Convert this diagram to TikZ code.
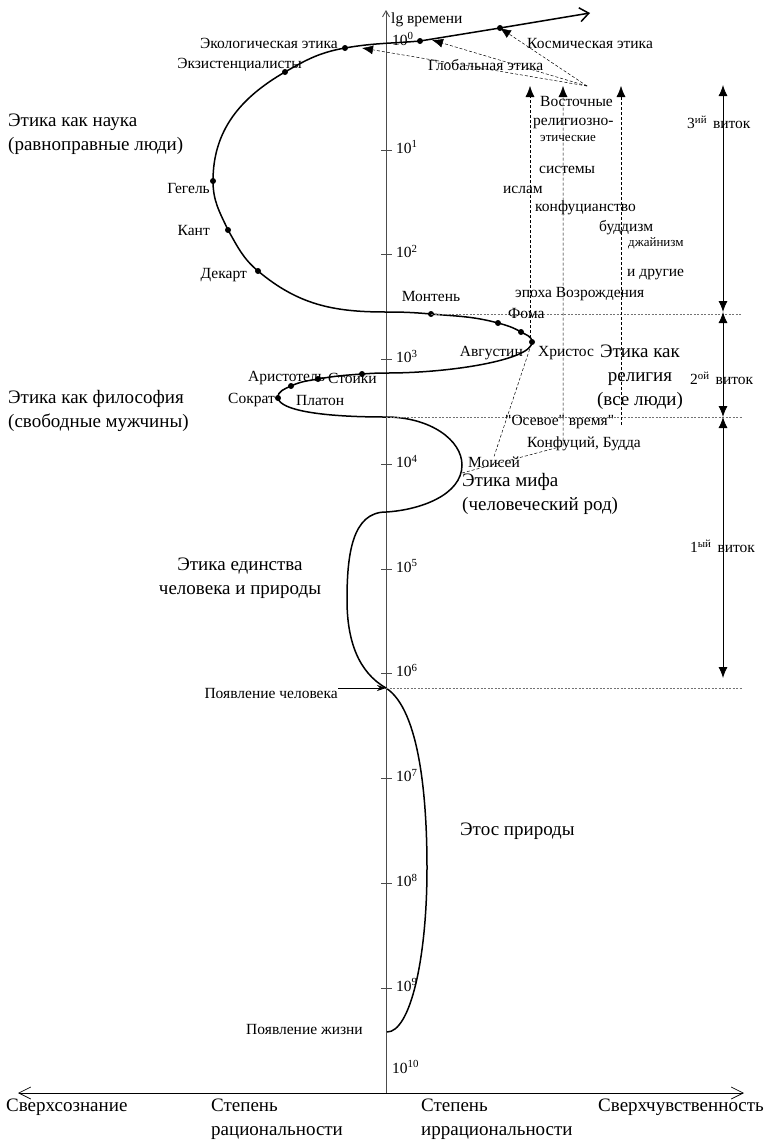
\documentclass[tikz,border=0pt]{standalone}
\usepackage{fontspec}
\setmainfont{Liberation Serif}[Ligatures=TeXOff]
\usetikzlibrary{arrows.meta,positioning}

\begin{document}
\begin{tikzpicture}[x=1pt,y=1pt,
    curve/.style={line width=1.5pt},
    dot/.style={circle,fill,inner sep=0pt,minimum size=6pt},
    lbl/.style={inner sep=0pt,font=\fontsize{15.5}{18}\selectfont},
    tiny/.style={inner sep=0pt,font=\fontsize{13}{15}\selectfont},
    big/.style={inner sep=0pt,font=\fontsize{19}{24}\selectfont},
    axis/.style={line width=0.9pt,black!70},
    guide/.style={dash pattern=on 3pt off 2pt,line width=0.5pt},
    level/.style={dash pattern=on 2pt off 1.5pt,line width=0.4pt,black!55},
    uparrow/.style={-{Latex[length=11pt,width=9pt]}},
    turnarrow/.style={{Latex[length=11pt,width=9pt]}-{Latex[length=11pt,width=9pt]},line width=0.9pt}]
  \useasboundingbox (0,0) rectangle (764,-1141);

  % axes
  \coordinate (origin) at (386,-1093);
  \coordinate (axtop) at (386,-10);
  \coordinate (xleft) at (18,-1093);
  \coordinate (xright) at (744,-1093);
  \coordinate (rim) at (742,0);
  \draw[axis,-{Straight Barb[length=6pt,width=7pt]}] (origin) -- (axtop);
  \draw[line width=0.7pt,{Straight Barb[length=12pt,width=12pt]}-{Straight Barb[length=12pt,width=12pt]}] (xleft) -- (xright);
  \foreach \n in {1,...,9} {
    \pgfmathsetmacro{\ty}{-150-104.75*(\n-1)}
    \draw[axis] (381,\ty) -- (392,\ty);
    \node[lbl,anchor=base west] (pow\n) at (396,\ty-3) {10\textsuperscript{\n}};
  }
  \node[lbl,anchor=base west] (pow0) at (392,-45) {10\textsuperscript{0}};
  \node[lbl,anchor=base west] (pow10) at (392,-1073) {10\textsuperscript{10}};
  \node[lbl,anchor=west] (lgtime) at (391,-20) {lg времени};

  % points of the spiral
  \coordinate (life) at (387,-1032);
  \coordinate (a2) at (427,-868);
  \coordinate (human) at (386,-688);
  \coordinate (a4) at (347,-600);
  \coordinate (a5) at (386,-512);
  \coordinate (moisei) at (462,-465);
  \coordinate (moisei2) at (462,-473);
  \coordinate (a6) at (386,-417);
  \coordinate (sokrat) at (278,-398);
  \coordinate (platon) at (291,-386);
  \coordinate (aristotel) at (318,-379);
  \coordinate (stoiki) at (362,-374);
  \coordinate (a7) at (387,-373);
  \coordinate (hristos) at (532,-342);
  \coordinate (avgust) at (521,-332);
  \coordinate (foma) at (498,-323);
  \coordinate (monten) at (431,-314);
  \coordinate (a8) at (386,-312);
  \coordinate (dekart) at (258,-271);
  \coordinate (kant) at (228,-230);
  \coordinate (hegel) at (213,-181);
  \coordinate (ekzist) at (285,-72);
  \coordinate (ekolog) at (345,-48);
  \coordinate (glob) at (420,-41);
  \coordinate (kosm) at (500,-28);
  \coordinate (tip) at (590,-13);

  \draw[curve,-{Straight Barb[length=9pt,width=14pt]}]
    (life) .. controls (410,-1032) and (427,-960) .. (a2)
    .. controls (427,-800) and (420,-710) .. (human)
    .. controls (358,-672) and (347,-640) .. (a4)
    .. controls (347,-555) and (352,-512) .. (a5)
    .. controls (420,-510) and (462,-495) .. (moisei)
    .. controls (462,-440) and (430,-417) .. (a6)
    .. controls (320,-417) and (280,-410) .. (sokrat)
    to[out=95,in=205] (platon) to[out=25,in=190] (aristotel)
    to[out=10,in=184] (stoiki) to[out=4,in=180] (a7)
    .. controls (450,-373) and (532,-360) .. (hristos)
    to[out=90,in=-30] (avgust) to[out=150,in=-15] (foma)
    to[out=165,in=-5] (monten) to[out=175,in=0] (a8)
    to[out=180,in=-40] (dekart) to[out=140,in=-60] (kant)
    to[out=115,in=-90] (hegel) to[out=90,in=-150] (ekzist)
    to[out=30,in=190] (ekolog) to[out=10,in=185] (glob) -- (kosm) -- (tip);
  \foreach \p in {kosm,glob,ekolog,ekzist,hegel,kant,dekart,monten,foma,avgust,hristos,stoiki,aristotel,platon,sokrat}
    \node[dot] (d-\p) at (\p) {};

  % levels and turns
  \draw[level] (monten) -- (monten -| rim);
  \draw[level] (a6) -- (a6 -| rim);
  \draw[level] (human) -- (human -| rim);
  \coordinate (v3) at (723,-85);
  \coordinate (v1) at (723,-678);
  \draw[turnarrow] (v3) -- (v3 |- a8);
  \draw[turnarrow] (v3 |- a8) -- (v3 |- a6);
  \draw[turnarrow] (v3 |- a6) -- (v1);
  \node[lbl,anchor=west] (turn3) at (687,-122) {3\textsuperscript{ий}\hspace{6pt}виток};
  \node[lbl,anchor=west] (turn2) at (690,-378) {2\textsuperscript{ой}\hspace{6pt}виток};
  \node[lbl,anchor=west] (turn1) at (690,-546) {1\textsuperscript{ый}\hspace{6pt}виток};

  % names on the spiral
  \node[lbl,left=3pt of hegel,yshift=-7pt] (hegellbl) {Гегель};
  \node[lbl,left=18pt of kant] (kantlbl) {Кант};
  \node[lbl,left=11pt of dekart,yshift=-4pt] (dekartlbl) {Декарт};
  \node[lbl,above=12pt of monten] (montenlbl) {Монтень};
  \node[lbl,above right=4pt and 10pt of foma] (fomalbl) {Фома};
  \node[lbl,left=9pt of hristos,yshift=-11pt] (avgustlbl) {Августин};
  \node[lbl,right=6pt of hristos,yshift=-11pt] (hristoslbl) {Христос};
  \node[lbl,anchor=west] (aristotellbl) at (248,-378) {Аристотель};
  \node[lbl,anchor=west] (stoikilbl) at (328,-378) {Стоики};
  \node[lbl,left=3pt of sokrat,yshift=-2pt] (sokratlbl) {Сократ};
  \node[lbl,anchor=west] (platonlbl) at (296,-400) {Платон};
  \node[lbl,right=6pt of moisei,yshift=3pt] (moiseilbl) {Моисей};
  \node[lbl,anchor=east] (ekologlbl) at (338,-43) {Экологическая этика};
  \node[lbl,anchor=east] (ekzistlbl) at (302,-65) {Экзистенциалисты};
  \node[lbl,anchor=west] (kosmlbl) at (527,-43) {Космическая этика};
  \node[lbl,anchor=west] (globlbl) at (428,-65) {Глобальная этика};
  \node[lbl,left=6pt of human,yshift=-5pt,xshift=-42pt] (humanlbl) {Появление человека};
  \node[lbl,left=24pt of life,yshift=3pt] (lifelbl) {Появление жизни};

  % eastern systems
  \node[lbl,anchor=west] (vostlbl) at (540,-101) {Восточные};
  \node[lbl,anchor=west] (rellbl) at (533,-123) {религиозно-};
  \node[tiny,anchor=west] (ethlbl) at (540,-138) {этические};
  \node[lbl,anchor=west] (syslbl) at (539,-170) {системы};
  \node[lbl,anchor=west] (islamlbl) at (503,-190) {ислам};
  \node[lbl,anchor=west] (konfuclbl) at (535,-208) {конфуцианство};
  \node[lbl,anchor=west] (buddlbl) at (599,-228) {буддизм};
  \node[tiny,anchor=west] (jainlbl) at (628,-243) {джайнизм};
  \node[lbl,anchor=west] (otherlbl) at (627,-275) {и другие};
  \node[lbl,anchor=west] (renaislbl) at (515,-294) {эпоха Возрождения};
  \node[lbl,anchor=west] (osevlbl) at (505,-422) {"Осевое" время"};
  \node[lbl,anchor=west] (konflbl) at (527,-444) {Конфуций, Будда};

  \coordinate (vost) at (587,-86);
  \coordinate (g2) at (432,-40);
  \coordinate (g3) at (362,-48);
  \coordinate (arrtop) at (0,-86);
  \coordinate (vb1) at (530,-338);
  \coordinate (konf) at (563,-446);
  \coordinate (osev) at (621,-425);
  \draw[guide,uparrow] (vost) -- (kosm);
  \draw[guide,uparrow] (vost) -- (g2);
  \draw[guide,uparrow] (vost) -- (g3);
  \draw[guide,uparrow] (vb1) -- (vb1 |- arrtop);
  \draw[guide,uparrow] (moisei2) -- (konf) -- (konf |- arrtop);
  \draw[guide,uparrow] (osev) -- (osev |- arrtop);
  \draw[guide] (moiseilbl.north) -- (hristos);
  \draw[line width=0.8pt,-{Stealth[length=9pt,width=6pt]}] (humanlbl.east |- human) -- (human);

  % stages
  \node[big,anchor=west,align=left] (science) at (8,-134) {Этика как наука\\(равноправные люди)};
  \node[big,anchor=west,align=left] (philos) at (8,-411) {Этика как философия\\(свободные мужчины)};
  \node[big,align=center] (relig) at (640,-377) {Этика как\\религия\\(все люди)};
  \node[big,anchor=west,align=left] (myth) at (462,-494) {Этика мифа\\(человеческий род)};
  \node[big,align=center] (unity) at (240,-578) {Этика единства\\человека и природы};
  \node[big,anchor=west] (ethos) at (460,-831) {Этос природы};

  % bottom scale
  \node[big,anchor=west] (supercon) at (6,-1107) {Сверхсознание};
  \node[big,anchor=west,align=left] (rational) at (211,-1119) {Степень\\рациональности};
  \node[big,anchor=west,align=left] (irrational) at (421,-1119) {Степень\\иррациональности};
  \node[big,anchor=west] (supersens) at (598,-1107) {Сверхчувственность};
\end{tikzpicture}
\end{document}
